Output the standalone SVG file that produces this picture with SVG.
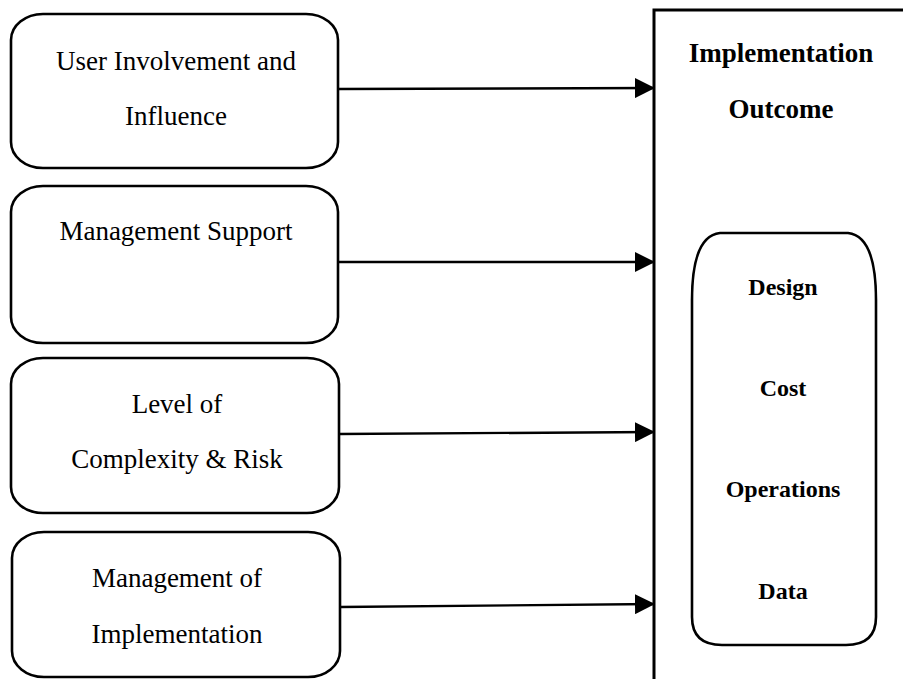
<svg xmlns="http://www.w3.org/2000/svg" width="903" height="679" viewBox="0 0 903 679">
  <style>
    .box { fill: #fff; stroke: #000; stroke-width: 2.6; }
    .frame { fill: none; stroke: #000; stroke-width: 3; }
    .lbl { font-family: "Liberation Serif", "Times New Roman", serif; font-size: 27px; fill: #000; text-anchor: middle; }
    .head { font-family: "Liberation Serif", "Times New Roman", serif; font-size: 27px; font-weight: bold; fill: #000; text-anchor: middle; }
    .item { font-family: "Liberation Serif", "Times New Roman", serif; font-size: 24px; font-weight: bold; fill: #000; text-anchor: middle; }
    .conn { stroke: #000; stroke-width: 2.4; fill: none; }
  </style>
  <defs>
    <marker id="arrow" viewBox="0 0 20 20" refX="20" refY="10" markerWidth="20" markerHeight="20" markerUnits="userSpaceOnUse" orient="auto">
      <path d="M0,0 L20,10 L0,20 Z" fill="#000"/>
    </marker>
  </defs>
  <rect width="903" height="679" fill="#fff"/>

  <!-- factor boxes -->
  <g id="user-involvement">
    <rect class="box" x="11" y="14" width="327" height="154" rx="32" ry="26"/>
    <text class="lbl" x="176" y="70">User Involvement and</text>
    <text class="lbl" x="176" y="125">Influence</text>
  </g>
  <g id="management-support">
    <rect class="box" x="11" y="186" width="327" height="157" rx="32" ry="26"/>
    <text class="lbl" x="176" y="240">Management Support</text>
  </g>
  <g id="complexity-risk">
    <rect class="box" x="11" y="358" width="328" height="155" rx="32" ry="26"/>
    <text class="lbl" x="177" y="413">Level of</text>
    <text class="lbl" x="177" y="468">Complexity &amp; Risk</text>
  </g>
  <g id="management-implementation">
    <rect class="box" x="12" y="532" width="328" height="145" rx="32" ry="26"/>
    <text class="lbl" x="177" y="587">Management of</text>
    <text class="lbl" x="177" y="643">Implementation</text>
  </g>

  <!-- outcome panel -->
  <g id="implementation-outcome">
    <rect class="frame" x="654" y="10" width="280" height="700"/>
    <text class="head" x="781" y="62">Implementation</text>
    <text class="head" x="781" y="118">Outcome</text>
    <path class="box" d="M720,233 L848,233 Q876,236 876,300 L876,617 Q876,645 846,645 L722,645 Q692,645 692,617 L692,300 Q692,236 720,233 Z"/>
    <text class="item" x="783" y="295">Design</text>
    <text class="item" x="783" y="396">Cost</text>
    <text class="item" x="783" y="497">Operations</text>
    <text class="item" x="783" y="599">Data</text>
  </g>

  <!-- connectors -->
  <g id="connectors">
    <line class="conn" x1="338" y1="89" x2="655" y2="88" marker-end="url(#arrow)"/>
    <line class="conn" x1="338" y1="262" x2="655" y2="262" marker-end="url(#arrow)"/>
    <line class="conn" x1="339" y1="434" x2="655" y2="432" marker-end="url(#arrow)"/>
    <line class="conn" x1="340" y1="607" x2="655" y2="604" marker-end="url(#arrow)"/>
  </g>
</svg>
